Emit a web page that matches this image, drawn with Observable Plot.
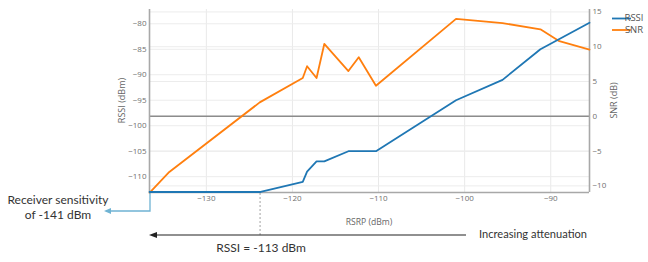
<!DOCTYPE html>
<html>
<head>
<meta charset="utf-8">
<script src="https://cdn.jsdelivr.net/npm/d3@7"></script>
<script src="https://cdn.jsdelivr.net/npm/@observablehq/plot@0.6"></script>
<style>
  html, body { margin: 0; padding: 0; background: #fff; }
  #chart { width: 648px; height: 262px; overflow: hidden; }
</style>
</head>
<body>
<div id="chart"></div>
<script>
// ---- data ----
const rsrpRssi = [-136.6, -123.7, -118.8, -118.3, -117.2, -116.3, -113.5, -110.3, -101.0, -95.6, -91.2, -85.5];
const rssi     = [-113,   -113,   -111,   -109,   -107,   -107,   -105,   -105,   -95,    -91,   -85,   -79.8];
const rsrpSnr  = [-136.6, -134.3, -123.8, -118.8, -118.3, -117.2, -116.3, -113.5, -112.3, -110.3, -101.0, -95.6, -91.2, -89.0, -85.5];
const snr      = [-11,    -8,     2,      5.5,    7.2,    5.5,    10.4,   6.5,    8.5,    4.4,    14.0,   13.4,  12.5,  10.8,  9.6];

const xTicks = [-130, -120, -110, -100, -90];
const rssiTicks = [-110, -105, -100, -95, -90, -85, -80];
const snrTicks = [-10, -5, 0, 5, 10, 15];

const xDomain = [-136.6, -85.5];
const rssiDomain = [-113.1, -77.2];
const snrDomain = [-10.95, 15.35];

const seriesNames = ["RSSI", "SNR"];
const seriesColors = ["#1f77b4", "#ff7f0e"];

const xTitle = "RSRP (dBm)";
const yTitle = "RSSI (dBm)";
const y2Title = "SNR (dB)";
const sensText = ["Receiver sensitivity", "of -141 dBm"];
const rssiText = "RSSI = -113 dBm";
const attenText = "Increasing attenuation";

// ---- build ----
const snrToY = d3.scaleLinear().domain(snrDomain).range(rssiDomain);
const fmt = d => (d < 0 ? "\u2212" + Math.abs(d) : String(d));

const rssiData = rsrpRssi.map((x, i) => ({x, y: rssi[i]}));
const snrData = rsrpSnr.map((x, i) => ({x, y: snrToY(snr[i])}));

const chart = Plot.plot({
  width: 648,
  height: 262,
  marginLeft: 149,
  marginRight: 59,
  marginTop: 9,
  marginBottom: 70,
  style: {fontFamily: "'Open Sans', sans-serif", fontSize: "8px", color: "#6f6f6f", background: "white", overflow: "visible"},
  x: {domain: xDomain},
  y: {domain: rssiDomain},
  marks: [
    Plot.gridX(xTicks, {stroke: "#e9e9e9", strokeOpacity: 1}),
    Plot.gridY(rssiTicks, {stroke: "#ececec", strokeOpacity: 1}),
    Plot.gridY(snrTicks.map(snrToY), {stroke: "#ececec", strokeOpacity: 1}),
    Plot.axisX(xTicks, {tickSize: 0, tickPadding: 3, tickFormat: fmt, label: null}),
    Plot.axisY(rssiTicks, {tickSize: 0, tickPadding: 3, tickFormat: fmt, label: null}),
    Plot.axisY(snrTicks.map(snrToY), {anchor: "right", tickSize: 0, tickPadding: 3, tickFormat: d => fmt(Math.round(snrToY.invert(d))), label: null}),
    Plot.ruleY([snrToY(0)], {stroke: "#8c8c8c", strokeWidth: 1.5}),
    Plot.ruleX([xDomain[0], xDomain[1]], {stroke: "#a8a8a8", strokeWidth: 1.6}),
    Plot.ruleY([rssiDomain[0]], {stroke: "#a8a8a8", strokeWidth: 1.6}),
    Plot.line(snrData, {x: "x", y: "y", stroke: seriesColors[1], strokeWidth: 1.8}),
    Plot.line(rssiData, {x: "x", y: "y", stroke: seriesColors[0], strokeWidth: 1.8})
  ]
});

document.getElementById("chart").appendChild(chart);

// ---- annotations overlay (positions from Plot's scales) ----
const sx = chart.scale("x");
const sy = chart.scale("y");
const svg = d3.select(chart);
const g = svg.append("g");

const x0 = sx.apply(xDomain[0]);
const x1 = sx.apply(xDomain[1]);
const yBottom = sy.apply(rssiDomain[0]);
const yTop = sy.apply(rssiDomain[1]);
const xThresh = sx.apply(rsrpRssi[1]);
const xMid = (x0 + x1) / 2;
const yMid = (yTop + yBottom) / 2;

// axis titles
const af = "'Open Sans', sans-serif";
g.append("text").attr("transform", `translate(${x0 - 26},${yMid}) rotate(-90)`).attr("text-anchor", "middle")
  .attr("dominant-baseline", "middle").attr("font-family", af).attr("font-size", 9).attr("fill", "#666").text(yTitle);
g.append("text").attr("transform", `translate(${x1 + 26},${yMid}) rotate(-90)`).attr("text-anchor", "middle")
  .attr("dominant-baseline", "middle").attr("font-family", af).attr("font-size", 9).attr("fill", "#666").text(y2Title);
g.append("text").attr("x", xMid).attr("y", yBottom + 31).attr("text-anchor", "middle")
  .attr("dominant-baseline", "middle").attr("font-family", af).attr("font-size", 8.6).attr("fill", "#666").text(xTitle);

// sensitivity arrow
const blue = "#6fb3d3";
g.append("path").attr("d", `M${x0 + 1},${yBottom + 1} V211 H110`).attr("fill", "none").attr("stroke", blue).attr("stroke-width", 1.3);
g.append("path").attr("d", `M104,211 L111,208 L111,214 Z`).attr("fill", blue);

// dashed threshold line
g.append("line").attr("x1", xThresh).attr("x2", xThresh).attr("y1", yBottom + 1).attr("y2", 235)
  .attr("stroke", "#888").attr("stroke-width", 0.8).attr("stroke-dasharray", "2,2");

// attenuation arrow
g.append("line").attr("x1", 154).attr("x2", 466).attr("y1", 235).attr("y2", 235).attr("stroke", "#222").attr("stroke-width", 1.2);
g.append("path").attr("d", `M149,235 L157,232 L157,238 Z`).attr("fill", "#222");

const tf = "Lato, 'Open Sans', sans-serif";
g.append("text").attr("x", 58).attr("y", 201).attr("text-anchor", "middle").attr("dominant-baseline", "middle")
  .attr("font-family", tf).attr("font-size", 12).attr("fill", "#333").text(sensText[0]);
g.append("text").attr("x", 58).attr("y", 216).attr("text-anchor", "middle").attr("dominant-baseline", "middle")
  .attr("font-family", tf).attr("font-size", 12).attr("fill", "#333").text(sensText[1]);
g.append("text").attr("x", 261).attr("y", 249).attr("text-anchor", "middle").attr("dominant-baseline", "middle")
  .attr("font-family", tf).attr("font-size", 12).attr("fill", "#333").text(rssiText);
g.append("text").attr("x", 479).attr("y", 235).attr("text-anchor", "start").attr("dominant-baseline", "middle")
  .attr("font-family", tf).attr("font-size", 11.5).attr("fill", "#333").attr("textLength", 108).attr("lengthAdjust", "spacingAndGlyphs").text(attenText);

// legend
seriesNames.forEach((name, i) => {
  const y = 18.5 + i * 11.5;
  g.append("line").attr("x1", 612).attr("x2", 631).attr("y1", y).attr("y2", y).attr("stroke", seriesColors[i]).attr("stroke-width", 1.8);
  g.append("text").attr("x", 634).attr("y", y).attr("dominant-baseline", "middle")
    .attr("font-family", af).attr("font-size", 9.5).attr("fill", "#555").text(name);
});
</script>
</body>
</html>
